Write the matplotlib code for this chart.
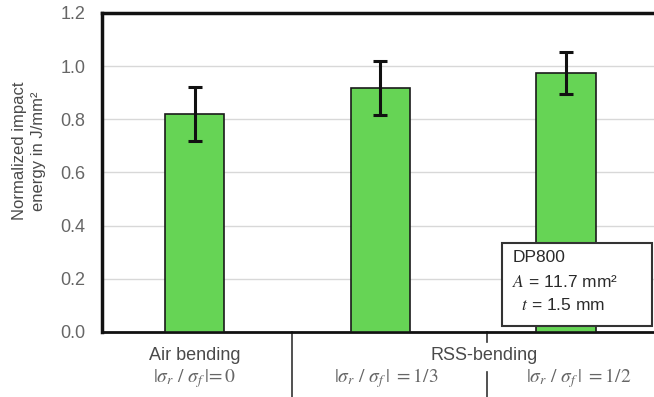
import matplotlib
matplotlib.use("Agg")
import matplotlib.pyplot as plt
import matplotlib.transforms as mtransforms

plt.rcParams['font.family'] = ['Liberation Sans', 'DejaVu Sans']
plt.rcParams['mathtext.fontset'] = 'stix'

values = [0.82, 0.918, 0.974]
errors = [0.10, 0.102, 0.079]
yticks = [0.0, 0.2, 0.4, 0.6, 0.8, 1.0, 1.2]
group_labels = ["Air bending", "RSS-bending"]
ratio_labels = [r"$|\sigma_r\ /\ \sigma_f\,|\!= 0$", r"$|\sigma_r\ /\ \sigma_f\,|\ = 1/3$", r"$|\sigma_r\ /\ \sigma_f\,|\ = 1/2$"]
legend_lines = ["DP800", r"$\mathit{A}$ = 11.7 mm²", r"  $\mathit{t}$ = 1.5 mm"]

txt = '#4a4a4a'
fig = plt.figure(figsize=(6.54, 3.97), dpi=100)
ax = fig.add_axes([102/654, 65/397, 552/654, 319/397])

x = list(range(len(values)))
ax.bar(x, values, width=0.32, color='#66d455', edgecolor='#1a1a1a', linewidth=1.2, zorder=3)
ax.errorbar(x, values, yerr=errors, fmt='none', ecolor='#111111', elinewidth=2.2,
            capsize=5, capthick=2.2, zorder=4)

ax.set_xlim(-0.5, 2.475)
ax.set_ylim(0, 1.2)
ax.set_yticks(yticks)
ax.set_yticklabels([f"{v:.1f}" for v in yticks], fontsize=13, color='#666666')
ax.set_xticks([])
ax.tick_params(axis='y', length=0, pad=12)
ax.yaxis.grid(True, color='#d8d8d8', linewidth=1.0, zorder=0)
ax.set_axisbelow(True)
for s in ['left', 'top']:
    ax.spines[s].set_linewidth(2.5)
    ax.spines[s].set_color('#111111')
ax.spines['bottom'].set_linewidth(2.0)
ax.spines['bottom'].set_color('#111111')
ax.spines['right'].set_visible(False)

fig.text(29/654, 1 - 151/397, "Normalized impact\nenergy in J/mm²", rotation=90,
         ha='center', va='center', fontsize=12, color=txt, linespacing=1.3)

trans = mtransforms.blended_transform_factory(ax.transData, ax.transAxes)
# separators below axis
ax.plot([0.523, 0.523], [0, -0.204], transform=trans, color='#333333', lw=1.2, clip_on=False)
ax.plot([1.574, 1.574], [0, -0.031], transform=trans, color='#333333', lw=1.2, clip_on=False)
ax.plot([1.574, 1.574], [-0.125, -0.204], transform=trans, color='#333333', lw=1.2, clip_on=False)

ax.text(0.0, -0.075, group_labels[0], transform=trans, ha='center', va='center', fontsize=13, color=txt)
ax.text(1.56, -0.075, group_labels[1], transform=trans, ha='center', va='center', fontsize=13, color=txt)
ratio_x = [0.0, 1.03, 2.07]
for rx, lab in zip(ratio_x, ratio_labels):
    ax.text(rx, -0.145, lab, transform=trans, ha='center', va='center', fontsize=14, color='#666666')

# info box
box = plt.Rectangle((0.725, 0.019), 0.271, 0.26, transform=ax.transAxes, facecolor='white',
                    edgecolor='#333333', linewidth=1.5, zorder=5)
ax.add_patch(box)
ys = [0.232, 0.157, 0.085]
for yy, lab in zip(ys, legend_lines):
    ax.text(0.743, yy, lab, transform=ax.transAxes, ha='left', va='center', fontsize=12.5,
            color='#2a2a2a', zorder=6)

fig.savefig("out.png", dpi=100)
